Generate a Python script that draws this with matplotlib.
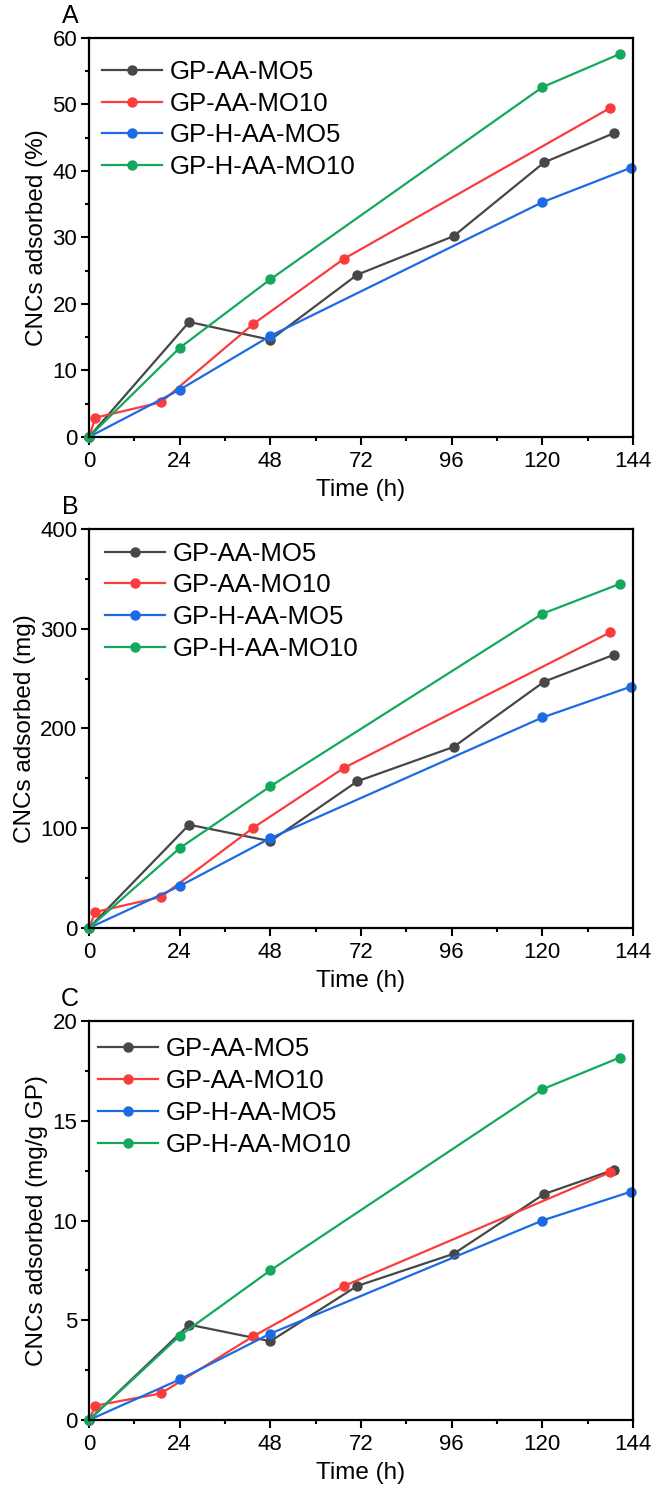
import matplotlib
matplotlib.use('Agg')
import matplotlib.pyplot as plt
from matplotlib.ticker import MultipleLocator

plt.rcParams['font.family'] = ['Liberation Sans', 'DejaVu Sans']

# series names and colours
names = ['GP-AA-MO5', 'GP-AA-MO10', 'GP-H-AA-MO5', 'GP-H-AA-MO10']
colors = ['#474747', '#fa3c3c', '#1c6ae4', '#14a85c']

# sampling times (h) for each series
t_mo5 = [0, 26.5, 48, 71, 96.5, 120.5, 139]
t_mo10 = [0, 1.7, 19, 43.5, 67.5, 138]
t_h_mo5 = [0, 24, 48, 120, 143.5]
t_h_mo10 = [0, 24, 48, 120, 140.5]

# panel A: CNCs adsorbed (%)
a_mo5 = [0, 17.3, 14.6, 24.4, 30.2, 41.3, 45.7]
a_mo10 = [0, 2.9, 5.2, 17.0, 26.8, 49.5]
a_h_mo5 = [0, 7.1, 15.2, 35.3, 40.5]
a_h_mo10 = [0, 13.4, 23.7, 52.6, 57.6]

# panel B: CNCs adsorbed (mg)
b_mo5 = [0, 103.5, 87, 147, 181.5, 247, 274]
b_mo10 = [0, 16, 31, 100.5, 160.5, 296.5]
b_h_mo5 = [0, 42, 90, 211, 242]
b_h_mo10 = [0, 80, 142, 315, 345]

# panel C: CNCs adsorbed (mg/g GP)
c_mo5 = [0, 4.78, 3.95, 6.72, 8.33, 11.33, 12.55]
c_mo10 = [0, 0.72, 1.33, 4.2, 6.72, 12.42]
c_h_mo5 = [0, 2.03, 4.33, 10.0, 11.45]
c_h_mo10 = [0, 4.22, 7.5, 16.58, 18.17]

x_ticks = [0, 24, 48, 72, 96, 120, 144]

panels = [
    ('A', 'CNCs adsorbed (%)', 60, 10, [a_mo5, a_mo10, a_h_mo5, a_h_mo10]),
    ('B', 'CNCs adsorbed (mg)', 400, 100, [b_mo5, b_mo10, b_h_mo5, b_h_mo10]),
    ('C', 'CNCs adsorbed (mg/g GP)', 20, 5, [c_mo5, c_mo10, c_h_mo5, c_h_mo10]),
]
times = [t_mo5, t_mo10, t_h_mo5, t_h_mo10]

fig = plt.figure(figsize=(6.56, 15.02), dpi=100)

bottoms = [0.7091, 0.3822, 0.0546]
legend_pos = [(0.024, 0.945), (0.03, 0.968), (0.016, 0.959)]
for (tag, ylabel, ymax, ystep, series), bottom, lpos in zip(panels, bottoms, legend_pos):
    ax = fig.add_axes([0.1357, bottom, 0.8293, 0.2656])
    for t, y, name, c in zip(times, series, names, colors):
        ax.plot(t, y, '-o', color=c, lw=1.6, ms=6.5, label=name, clip_on=False)

    ax.set_xlim(0, 144)
    ax.set_ylim(0, ymax)
    ax.set_xticks(x_ticks)
    ax.xaxis.set_minor_locator(MultipleLocator(12))
    ax.yaxis.set_major_locator(MultipleLocator(ystep))
    ax.yaxis.set_minor_locator(MultipleLocator(ystep / 2))
    ax.tick_params(which='major', direction='out', length=6, width=1.5, labelsize=16)
    ax.tick_params(axis='x', which='major', pad=4)
    ax.tick_params(axis='y', which='major', pad=2.5)
    ax.tick_params(which='minor', direction='out', length=3, width=1.5)
    for s in ax.spines.values():
        s.set_linewidth(1.6)

    ax.set_xlabel('Time (h)', fontsize=17.5, labelpad=5)
    ax.set_ylabel(ylabel, fontsize=17.5, labelpad=3)

    ax.legend(loc='upper left', bbox_to_anchor=lpos, frameon=False,
              fontsize=18.5, handlelength=2.33, handletextpad=0.31,
              labelspacing=0.3, borderpad=0, borderaxespad=0)

    ax.text(-0.035, 1.025, tag, transform=ax.transAxes, fontsize=18,
            ha='center', va='bottom')

fig.savefig('out.png', dpi=100)
